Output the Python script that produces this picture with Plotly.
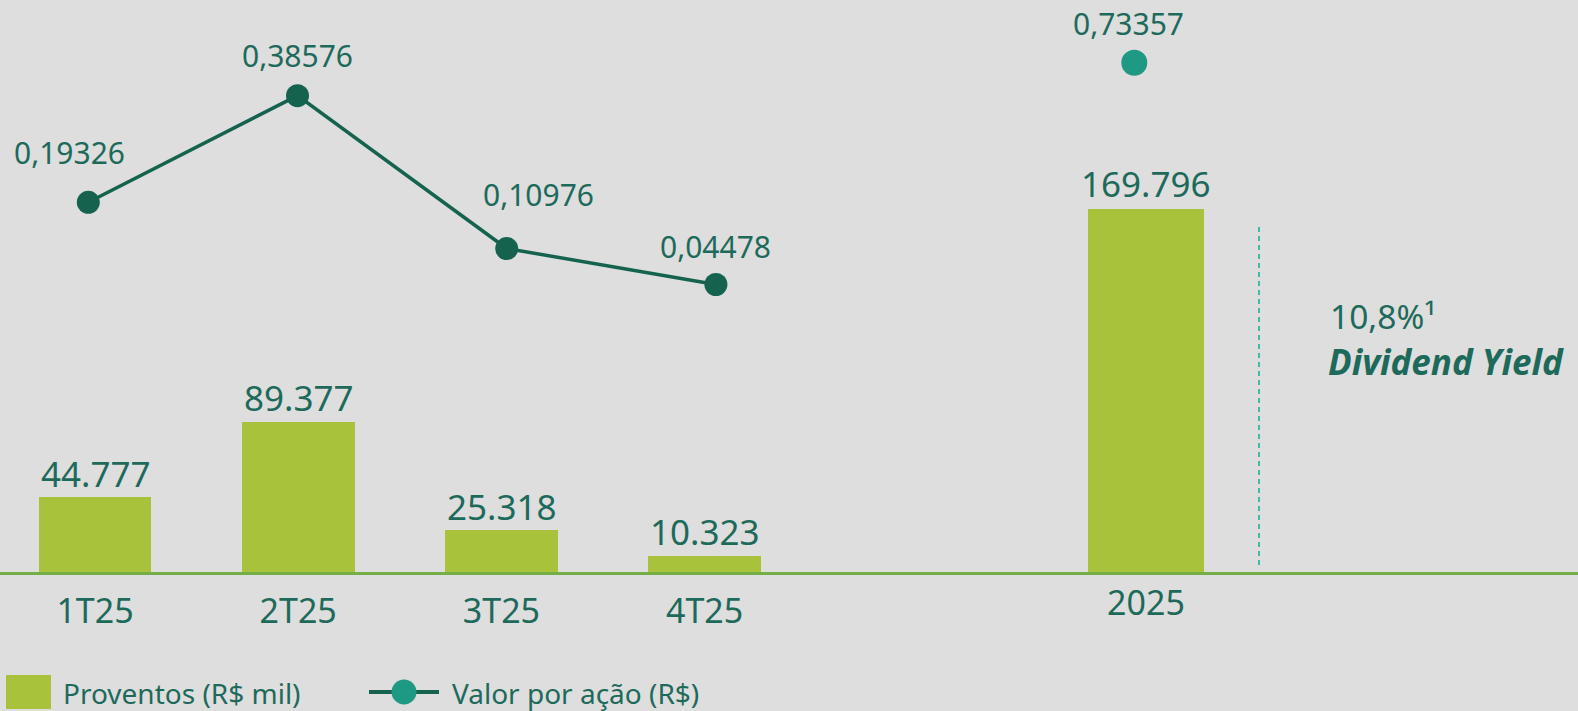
import plotly.graph_objects as go

# --- data -----------------------------------------------------------------
periods = ["1T25", "2T25", "3T25", "4T25"]
proventos = [44777, 89377, 25318, 10323]          # R$ mil
valor_acao = [0.19326, 0.38576, 0.10976, 0.04478]  # R$ por ação

ano = ["2025"]
proventos_ano = [169796]
valor_acao_ano = [0.73357]

dy_label = "10,8%¹"
dy_title = "Dividend Yield"

# --- styles ---------------------------------------------------------------
W, H = 1578, 711
BG = "#DEDEDE"
BAR = "#A8C23B"
LINE = "#15634F"
DOT_YEAR = "#1E9984"
TEXT = "#1D6A5A"
BASE = "#74AE46"
DASH = "#3DBDA7"
FONT = "Noto Sans"
BASE_PX = 573  # vertical pixel of the zero line


def lin_range(origin_px, px_per_unit, length):
    """Axis range whose zero sits at origin_px (pixels from the low end)."""
    return [-origin_px / px_per_unit, (length - origin_px) / px_per_unit]


def y_range(zero_from_top, px_per_unit):
    return [-(H - zero_from_top) / px_per_unit, zero_from_top / px_per_unit]


def fmt_mil(v):
    return f"{v:,}".replace(",", ".")


def fmt_rs(v):
    return f"{v:.5f}".replace(".", ",")


fig = go.Figure()

# quarterly payouts
fig.add_trace(go.Bar(
    x=periods, y=proventos, xaxis="x", yaxis="y",
    marker=dict(color=BAR, line=dict(width=0)), width=0.555,
    showlegend=False, hoverinfo="skip",
))
# annual payout (own scale)
fig.add_trace(go.Bar(
    x=ano, y=proventos_ano, xaxis="x3", yaxis="y3",
    marker=dict(color=BAR, line=dict(width=0)), width=0.574,
    showlegend=False, hoverinfo="skip",
))
# value per share, quarterly
fig.add_trace(go.Scatter(
    x=periods, y=valor_acao, xaxis="x2", yaxis="y2",
    mode="lines+markers",
    line=dict(color=LINE, width=3.5),
    marker=dict(color=LINE, size=23),
    showlegend=False, hoverinfo="skip",
))
# value per share, year
fig.add_trace(go.Scatter(
    x=ano, y=valor_acao_ano, xaxis="x4", yaxis="y4",
    mode="markers",
    marker=dict(color=DOT_YEAR, size=26),
    showlegend=False, hoverinfo="skip",
))

annotations = []
# bar value labels (category axes take the category index)
for i, v in enumerate(proventos):
    annotations.append(dict(x=i, y=v, xref="x", yref="y", text=fmt_mil(v),
                            showarrow=False, yanchor="middle", yshift=24,
                            font=dict(size=35, color=TEXT, family=FONT)))
for i, v in enumerate(proventos_ano):
    annotations.append(dict(x=i, y=v, xref="x3", yref="y3", text=fmt_mil(v),
                            showarrow=False, yanchor="middle", yshift=26,
                            font=dict(size=35, color=TEXT, family=FONT)))

# per-share labels
label_shift = [(-19, 50), (0, 40), (32, 54), (0, 38)]
for i, (v, (sx, sy)) in enumerate(zip(valor_acao, label_shift)):
    annotations.append(dict(x=i, y=v, xref="x2", yref="y2", text=fmt_rs(v),
                            showarrow=False, yanchor="middle", xshift=sx, yshift=sy,
                            font=dict(size=30, color=TEXT, family=FONT)))
for i, v in enumerate(valor_acao_ano):
    annotations.append(dict(x=i, y=v, xref="x4", yref="y4", text=fmt_rs(v),
                            showarrow=False, yanchor="middle", xshift=-6, yshift=39,
                            font=dict(size=30, color=TEXT, family=FONT)))

# dividend yield callout
annotations.append(dict(x=1329 / W, y=1 - 316 / H, xref="paper", yref="paper",
                        text=dy_label, showarrow=False, xanchor="left", yanchor="middle",
                        borderpad=0,
                        font=dict(size=33.5, color=TEXT, family=FONT)))
annotations.append(dict(x=1327 / W, y=1 - 361 / H, xref="paper", yref="paper",
                        text=dy_title, showarrow=False, xanchor="left", yanchor="middle",
                        borderpad=0,
                        font=dict(size=35, color=TEXT, family=FONT,
                                  weight="bold", style="italic")))

# legend texts
annotations.append(dict(x=61 / W, y=1 - 693 / H, xref="paper", yref="paper",
                        text="Proventos (R$ mil)", showarrow=False,
                        xanchor="left", yanchor="middle",
                        font=dict(size=28, color=TEXT, family=FONT)))
annotations.append(dict(x=450 / W, y=1 - 693 / H, xref="paper", yref="paper",
                        text="Valor por ação (R$)", showarrow=False,
                        xanchor="left", yanchor="middle",
                        font=dict(size=28, color=TEXT, family=FONT)))

shapes = [
    # dashed separator next to the annual bar
    dict(type="line", xref="paper", yref="paper",
         x0=1259 / W, x1=1259 / W, y0=1 - 227 / H, y1=1 - 566 / H,
         line=dict(color=DASH, width=2, dash="5px,4px")),
    # legend: bar swatch
    dict(type="rect", xref="paper", yref="paper",
         x0=6 / W, x1=51 / W, y0=1 - 675 / H, y1=1 - 709 / H,
         fillcolor=BAR, line=dict(width=0)),
    # legend: line + dot swatch
    dict(type="line", xref="paper", yref="paper",
         x0=369 / W, x1=439 / W, y0=1 - 692 / H, y1=1 - 692 / H,
         line=dict(color=LINE, width=4)),
    dict(type="circle", xref="paper", yref="paper",
         x0=391.5 / W, x1=416.5 / W, y0=1 - 679.5 / H, y1=1 - 704.5 / H,
         fillcolor=DOT_YEAR, line=dict(width=0)),
]

axis_pos = (H - BASE_PX) / H
tickfont = dict(size=34, color=TEXT, family=FONT)

fig.update_layout(
    width=W, height=H,
    margin=dict(l=0, r=0, t=0, b=0),
    paper_bgcolor=BG, plot_bgcolor=BG,
    bargap=0, showlegend=False,
    annotations=annotations, shapes=shapes,
    xaxis=dict(type="category", range=lin_range(95, 203.2, W), domain=[0, 1],
               anchor="free", position=axis_pos,
               showline=True, linecolor=BASE, linewidth=3,
               showgrid=False, zeroline=False, ticks="",
               ticklabelstandoff=7, tickfont=tickfont, fixedrange=True),
    xaxis3=dict(type="category", range=lin_range(1146, 203.2, W), overlaying="x",
                anchor="free", position=axis_pos,
                showline=False, showgrid=False, zeroline=False, ticks="",
                ticklabelstandoff=7, tickfont=tickfont, fixedrange=True),
    xaxis2=dict(type="category", range=lin_range(88.3, 209.2, W), overlaying="x",
                visible=False),
    xaxis4=dict(type="category", range=lin_range(1134.3, 209.2, W), overlaying="x",
                visible=False),
    yaxis=dict(range=y_range(BASE_PX, 1.69 / 1000), domain=[0, 1], visible=False),
    yaxis3=dict(range=y_range(BASE_PX, 2.1437 / 1000), overlaying="y", visible=False),
    yaxis2=dict(range=y_range(309.3, 553.8), overlaying="y", visible=False),
    yaxis4=dict(range=y_range(BASE_PX, 695.6), overlaying="y", visible=False),
)

fig.write_html("out.html")
